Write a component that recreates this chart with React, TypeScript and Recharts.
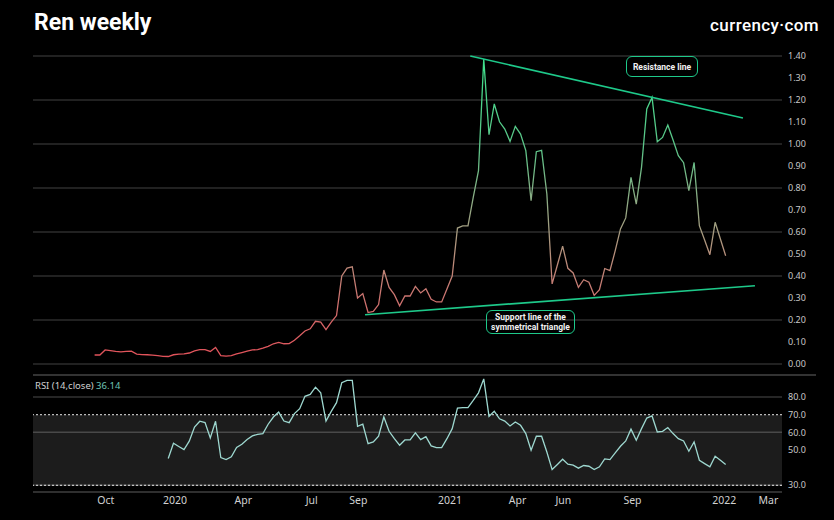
import React from 'react'
import {
  LineChart,
  Line,
  XAxis,
  YAxis,
  CartesianGrid,
  ReferenceLine,
  ReferenceArea,
} from 'recharts'

// weekly closes, first candle on startDate
const startDate = '2019-09-16'
const priceValues = [
  0.041, 0.041, 0.064, 0.061, 0.057, 0.055, 0.057, 0.058, 0.045, 0.043,
  0.042, 0.04, 0.038, 0.035, 0.034, 0.042, 0.045, 0.046, 0.05, 0.06,
  0.065, 0.065, 0.057, 0.075, 0.038, 0.036, 0.038, 0.046, 0.052, 0.058,
  0.064, 0.065, 0.072, 0.08, 0.092, 0.098, 0.092, 0.093, 0.108, 0.128,
  0.15, 0.16, 0.194, 0.19, 0.156, 0.19, 0.22, 0.4, 0.436, 0.442,
  0.3, 0.32, 0.234, 0.239, 0.27, 0.427, 0.348, 0.315, 0.265, 0.309,
  0.309, 0.353, 0.323, 0.342, 0.294, 0.282, 0.282, 0.341, 0.4, 0.618,
  0.628, 0.628, 0.757, 0.879, 1.386, 1.042, 1.182, 1.101, 1.068, 1.012,
  1.08, 1.045, 0.97, 0.742, 0.965, 0.971, 0.773, 0.364, 0.45, 0.536,
  0.435, 0.414, 0.348, 0.383, 0.372, 0.312, 0.338, 0.434, 0.424, 0.515,
  0.614, 0.664, 0.848, 0.727, 0.894, 1.159, 1.212, 1.01, 1.03, 1.086,
  1.018, 0.947, 0.915, 0.788, 0.916, 0.629, 0.564, 0.497, 0.644, 0.568,
  0.492,
]

// RSI(14) starts on the 15th week
const rsiStart = 14
const rsiValues = [
  45.2, 53.8, 52, 50.2, 55, 63, 66.3, 65.5, 56.8, 66.3,
  45.7, 44.6, 46.1, 51.4, 53.3, 56, 58, 58.9, 59.3, 64.6,
  68.7, 71.5, 66.4, 65.5, 70.6, 73.4, 80.4, 81.5, 85.6, 82.4,
  66.4, 71.9, 76.8, 88.1, 89.4, 89.4, 63.4, 64.6, 53.6, 54.6,
  57.8, 68.7, 60.6, 56.4, 52.7, 55.7, 55.7, 59.7, 55.9, 57.6,
  52.3, 51.4, 51.4, 56.4, 62.1, 73.8, 74, 74, 78.1, 82.4,
  90.3, 69.1, 71.9, 67.7, 66.4, 63.6, 65.9, 64, 59.3, 49.9,
  57.8, 57.8, 48.9, 38.9, 41.8, 44.8, 42, 41.4, 39.7, 41.2,
  40.8, 38.9, 40.5, 45, 44.6, 48.4, 52.1, 55.1, 61.8, 55.5,
  62.1, 68.1, 69.3, 60.2, 60.6, 62.7, 59.3, 56.4, 55.1, 49.3,
  54.6, 44.2, 42.3, 40.5, 46.5, 44.2, 41.8,
]

const priceTicks = [0, 0.1, 0.2, 0.3, 0.4, 0.5, 0.6, 0.7, 0.8, 0.9, 1.0, 1.1, 1.2, 1.3, 1.4]
const rsiTicks = [30, 50, 60, 70, 80]
const timeTickDates = [
  '2019-10-01', '2020-01-01', '2020-04-01', '2020-07-01', '2020-09-01', '2021-01-01',
  '2021-04-01', '2021-06-01', '2021-09-01', '2022-01-01', '2022-03-01',
]
const timeTickLabels = ['Oct', '2020', 'Apr', 'Jul', 'Sep', '2021', 'Apr', 'Jun', 'Sep', '2022', 'Mar']
const xRange = ['2019-06-26', '2022-03-19']

const resistancePoints = [
  { date: '2021-01-28', value: 1.4 },
  { date: '2022-01-26', value: 1.118 },
]
const supportPoints = [
  { date: '2020-09-10', value: 0.224 },
  { date: '2022-02-11', value: 0.356 },
]

const DAY = 86400000
const ts = (d: string) => Date.parse(d + 'T00:00:00Z')
const t0 = ts(startDate)

const rows = priceValues.map((p, i) => ({
  t: t0 + i * 7 * DAY,
  price: p,
  rsi: i >= rsiStart ? rsiValues[i - rsiStart] : null,
}))

const xDomain = [ts(xRange[0]), ts(xRange[1])]
const xTicks = timeTickDates.map(ts)
const labelFor = (v: number) => timeTickLabels[xTicks.indexOf(v)] ?? ''

const GREEN = '#1ec98a'
const FONT = '"Noto Sans", "Open Sans", sans-serif'

const boxStyle: React.CSSProperties = {
  position: 'absolute',
  border: `1.5px solid ${GREEN}`,
  borderRadius: 6,
  color: '#f2f2f2',
  fontFamily: 'Roboto, sans-serif',
  fontWeight: 700,
  fontSize: 8.5,
  lineHeight: '10px',
  textAlign: 'center',
  whiteSpace: 'nowrap',
  boxSizing: 'border-box',
  display: 'flex',
  alignItems: 'center',
  justifyContent: 'center',
}

export default function App() {
  return (
    <div style={{ position: 'absolute', left: 0, top: 0, width: 834, height: 520, background: '#000', overflow: 'hidden' }}>
      <style>{'body{margin:0;background:#000}'}</style>

      <div style={{ position: 'absolute', left: 34, top: 9, color: '#fff', fontFamily: 'Roboto, sans-serif', fontWeight: 700, fontSize: 23 }}>
        Ren weekly
      </div>
      <div style={{ position: 'absolute', right: 15, top: 15, color: '#fff', fontFamily: 'Roboto, sans-serif', fontWeight: 500, fontSize: 17, letterSpacing: 0.4 }}>
        currency·com
      </div>

      <div style={{ position: 'absolute', left: 0, top: 0 }}>
        <LineChart width={834} height={380} data={rows} margin={{ top: 56, right: 12, bottom: 5, left: 33 }}>
          <defs>
            <linearGradient id="priceGrad" x1="0" y1="0" x2="0" y2="1">
              <stop offset="0%" stopColor="#3fe08c" />
              <stop offset="30%" stopColor="#5cc488" />
              <stop offset="50%" stopColor="#93a884" />
              <stop offset="65%" stopColor="#b5907c" />
              <stop offset="80%" stopColor="#cc7470" />
              <stop offset="100%" stopColor="#e2525a" />
            </linearGradient>
          </defs>
          <CartesianGrid vertical={false} stroke="#2c2c2c" strokeWidth={1.5} />
          <XAxis dataKey="t" type="number" domain={xDomain} allowDataOverflow hide />
          <YAxis
            orientation="right"
            domain={[-0.05, 1.4]}
            ticks={priceTicks}
            allowDataOverflow
            width={40}
            axisLine={false}
            tickLine={false}
            tickSize={0}
            tickMargin={6}
            tick={{ fill: '#c8c8c8', fontSize: 9, fontFamily: FONT }}
            tickFormatter={(v: number) => v.toFixed(2)}
          />
          <Line
            type="linear"
            dataKey="price"
            stroke="url(#priceGrad)"
            strokeWidth={1.3}
            dot={false}
            isAnimationActive={false}
          />
          <ReferenceLine
            segment={resistancePoints.map((p) => ({ x: ts(p.date), y: p.value }))}
            stroke={GREEN}
            strokeWidth={1.6}
            ifOverflow="visible"
          />
          <ReferenceLine
            segment={supportPoints.map((p) => ({ x: ts(p.date), y: p.value }))}
            stroke={GREEN}
            strokeWidth={1.6}
            ifOverflow="visible"
          />
        </LineChart>
      </div>

      <div style={{ position: 'absolute', left: 0, top: 375 }}>
        <LineChart width={834} height={145} data={rows} margin={{ top: 0, right: 12, bottom: 0, left: 33 }}>
          <CartesianGrid vertical={false} stroke="#333" strokeWidth={1.5} />
          <ReferenceArea y1={30} y2={70} fill="#ffffff" fillOpacity={0.11} stroke="none" />
          <XAxis
            dataKey="t"
            type="number"
            domain={xDomain}
            ticks={xTicks}
            allowDataOverflow
            height={28}
            axisLine={{ stroke: '#333', strokeWidth: 1.5 }}
            tickLine={false}
            tickSize={0}
            tickMargin={5}
            tick={{ fill: '#d0d0d0', fontSize: 10.5, fontFamily: FONT }}
            tickFormatter={labelFor}
          />
          <YAxis
            orientation="right"
            domain={[26.2, 92.5]}
            ticks={rsiTicks}
            allowDataOverflow
            width={40}
            axisLine={false}
            tickLine={false}
            tickSize={0}
            tickMargin={6}
            tick={{ fill: '#c8c8c8', fontSize: 9, fontFamily: FONT }}
            tickFormatter={(v: number) => v.toFixed(1)}
          />
          <ReferenceLine y={70} stroke="#e8e8e8" strokeDasharray="2 2" />
          <ReferenceLine y={30} stroke="#e8e8e8" strokeDasharray="2 2" />
          <Line
            type="linear"
            dataKey="rsi"
            stroke="#9ed8d0"
            strokeWidth={1.3}
            dot={false}
            connectNulls={false}
            isAnimationActive={false}
          />
        </LineChart>
      </div>

      <div style={{ position: 'absolute', left: 33, top: 374, width: 783, height: 1.5, background: '#333' }} />

      <div style={{ position: 'absolute', left: 35, top: 379, fontFamily: FONT, fontSize: 9.5, color: '#d0d0d0' }}>
        RSI (14,close) <span style={{ color: '#6fc4b6' }}>36.14</span>
      </div>

      <div style={{ ...boxStyle, left: 626, top: 56, width: 72, height: 21 }}>Resistance line</div>
      <div style={{ ...boxStyle, left: 486, top: 310, width: 89, height: 24 }}>
        Support line of the
        <br />
        symmetrical triangle
      </div>
    </div>
  )
}
